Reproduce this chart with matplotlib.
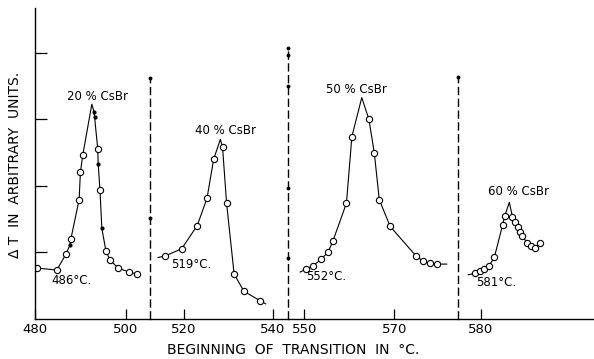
import matplotlib.pyplot as plt
import numpy as np

# --- data (Delta T in arbitrary units) ---
# 20 % CsBr
t20 = [480.5, 484.8, 486.8, 487.9, 489.7, 490.0, 490.5, 493.8, 494.3, 495.6, 496.5, 498.3, 500.7, 502.4]
d20 = [0.76, 0.73, 0.97, 1.20, 1.79, 2.21, 2.46, 2.56, 1.93, 1.02, 0.88, 0.76, 0.70, 0.67]
t20_dots = [487.7, 493.0, 493.1, 493.9, 494.7]
d20_dots = [1.11, 3.11, 3.04, 2.33, 1.36]
peak20 = (492.5, 3.23)
ends20 = [(480.0, 0.76), (502.6, 0.67)]

# 40 % CsBr
t40 = [515.7, 519.5, 523.0, 525.2, 526.7, 528.7, 529.6, 531.3, 533.5, 537.1]
d40 = [0.94, 1.05, 1.40, 1.81, 2.40, 2.58, 1.74, 0.67, 0.41, 0.27]
peak40 = (528.2, 2.70)
ends40 = [(514.2, 0.92), (538.4, 0.22)]

# 50 % CsBr
t50 = [550.3, 551.9, 553.7, 555.3, 556.4, 559.4, 560.6, 564.4, 565.6, 566.7, 569.1, 574.9, 576.5, 578.0, 579.6]
d50 = [0.74, 0.79, 0.89, 1.00, 1.17, 1.74, 2.74, 3.00, 2.49, 1.79, 1.39, 0.94, 0.86, 0.83, 0.82]
peak50 = (562.8, 3.33)
ends50 = [(549.1, 0.70), (581.7, 0.82)]

# 60 % CsBr
t60 = [578.7, 579.8, 580.7, 581.8, 583.0, 584.8, 585.3, 587.0, 587.6, 588.2, 588.7, 589.2, 590.2, 591.1, 592.1, 593.0]
d60 = [0.68, 0.72, 0.75, 0.79, 0.93, 1.41, 1.55, 1.53, 1.45, 1.38, 1.31, 1.25, 1.14, 1.09, 1.06, 1.14]
peak60 = (586.3, 1.75)
ends60 = [(577.2, 0.66)]

names = ['20 % CsBr', '40 % CsBr', '50 % CsBr', '60 % CsBr']
onsets = ['486°C.', '519°C.', '552°C.', '581°C.']
name_pos = [(493.8, 3.35), (529.3, 2.84), (561.6, 3.45), (588.4, 1.92)]
onset_pos = [(488.0, 0.57), (521.6, 0.81), (555.0, 0.63), (583.4, 0.54)]
ticks = [[480, 500], [520, 540], [550, 570], [580]]
xlims = [(480, 505.3), (512.4, 543.4), (546.4, 584.2), (574.9, 605.1)]
# dots drawn along the dashed separators
sep_dots = [[3.63, 1.52], [4.08, 3.97, 3.51, 1.97, 0.91], [3.64]]
sep_tops = [3.63, 4.08, 3.64]

W, H = 594, 359
fig = plt.figure(figsize=(W / 100, H / 100), dpi=100)
edges = [35, 150, 288, 458, 594]
y0, y1 = 318.5, 8
axes = []
for i in range(4):
    ax = fig.add_axes([edges[i] / W, (H - y0) / H, (edges[i + 1] - edges[i]) / W, (y0 - y1) / H])
    axes.append(ax)

series = [(t20, d20, peak20, ends20), (t40, d40, peak40, ends40),
          (t50, d50, peak50, ends50), (t60, d60, peak60, ends60)]

for i, ax in enumerate(axes):
    t, d, pk, ends = series[i]
    xs = list(t) + [pk[0]] + [e[0] for e in ends]
    ys = list(d) + [pk[1]] + [e[1] for e in ends]
    if i == 0:
        xs += t20_dots
        ys += d20_dots
    order = np.argsort(xs, kind='stable')
    ax.plot(np.array(xs)[order], np.array(ys)[order], color='black', lw=0.8)
    ax.plot(t, d, 'o', ms=4.5, mfc='white', mec='black', mew=0.8)
    if i == 0:
        ax.plot(t20_dots, d20_dots, 'o', ms=2.0, color='black')
    ax.text(*name_pos[i], names[i], ha='center', va='center', fontsize=8.5)
    ax.text(*onset_pos[i], onsets[i], ha='center', va='center', fontsize=8.5)

    ax.set_xlim(*xlims[i])
    ax.set_ylim(0, 4.68)
    ax.set_xticks(ticks[i])
    ax.set_xticklabels([str(v) for v in ticks[i]], fontsize=9.5)
    ax.tick_params(axis='x', direction='in', length=7.5, width=0.9, pad=3)
    for s in ['top', 'right']:
        ax.spines[s].set_visible(False)
    ax.spines['bottom'].set_linewidth(1.0)
    ax.patch.set_visible(False)
    if i == 0:
        ax.set_yticks([1, 2, 3, 4])
        ax.set_yticklabels([])
        ax.tick_params(axis='y', direction='in', length=8.6, width=0.9)
        ax.spines['left'].set_linewidth(1.0)
    else:
        ax.spines['left'].set_visible(False)
        ax.set_yticks([])
    if i < 3:
        xr = xlims[i][1]
        ax.plot([xr, xr], [0, sep_tops[i]], color='black', lw=1.0,
                linestyle=(0, (6, 2.5)), clip_on=False)
        ax.plot([xr] * len(sep_dots[i]), sep_dots[i], 'o', ms=1.8, color='black', clip_on=False)

fig.text(293 / W, 1 - 350 / H, 'BEGINNING  OF  TRANSITION  IN  °C.', ha='center', va='center', fontsize=10)
fig.text(15 / W, 1 - 165 / H, 'Δ T  IN  ARBITRARY  UNITS.', ha='center', va='center',
         rotation=90, fontsize=10)

fig.savefig('out.png', dpi=100)
